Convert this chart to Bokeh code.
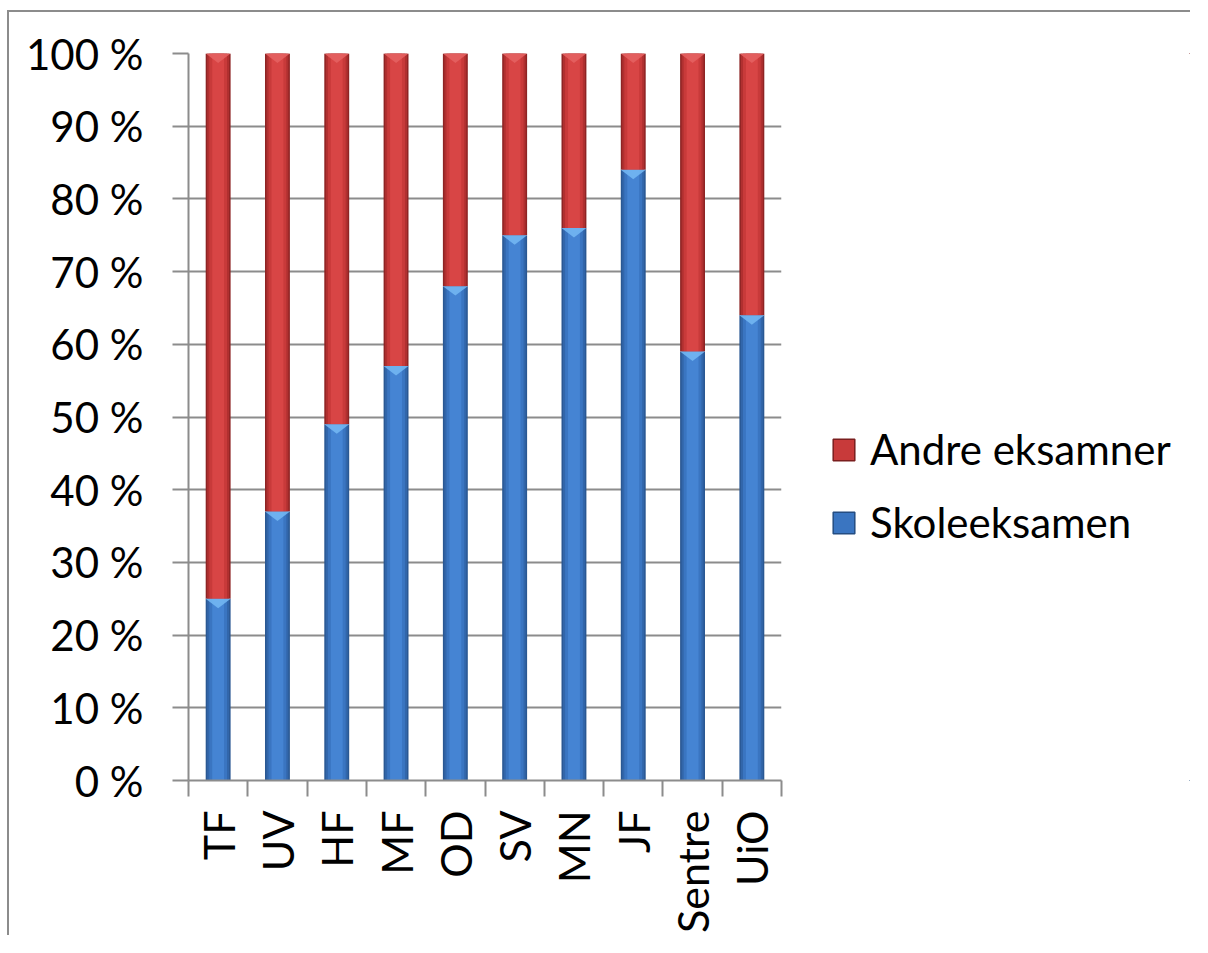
import math
from bokeh.plotting import figure
from bokeh.layouts import row
from bokeh.models import FixedTicker, Legend, LegendItem, ColumnDataSource, Range1d, BoxAnnotation
from bokeh.embed import file_html
from bokeh.resources import INLINE

# ---- data ----
categories = ["TF", "UV", "HF", "MF", "OD", "SV", "MN", "JF", "Sentre", "UiO"]
skoleeksamen = [25, 37, 49, 57, 68, 75, 76, 84, 59, 64]
andre_eksamner = [75, 63, 51, 43, 32, 25, 24, 16, 41, 36]
y_ticks = [0, 10, 20, 30, 40, 50, 60, 70, 80, 90, 100]
y_tick_labels = ["0 %", "10 %", "20 %", "30 %", "40 %", "50 %", "60 %", "70 %", "80 %", "90 %", "100 %"]
series_names = ["Andre eksamner", "Skoleeksamen"]

FONT = "Lato"
GRAY = "#8c8c8c"

xs = [i + 0.5 for i in range(len(categories))]
bottoms_blue = [0] * len(categories)
tops_blue = list(skoleeksamen)
bottoms_red = list(skoleeksamen)
tops_red = [s + a for s, a in zip(skoleeksamen, andre_eksamner)]

src = ColumnDataSource(dict(x=xs, b0=bottoms_blue, t0=tops_blue, b1=bottoms_red, t1=tops_red))

W_MAIN = 802
W_LEG = 1181 - W_MAIN
H = 923
TOP = 41
FRAME_H = 731

p = figure(width=W_MAIN, height=H, x_range=Range1d(0, len(categories)), y_range=Range1d(0, 100),
           output_backend="svg", toolbar_location=None,
           min_border_left=179, min_border_right=W_MAIN - 179 - 593, min_border_top=TOP,
           min_border_bottom=H - TOP - FRAME_H)
p.outline_line_color = None
p.background_fill_color = "white"
p.border_fill_color = "white"

# grid
p.xgrid.visible = False
p.ygrid.ticker = FixedTicker(ticks=y_ticks)
p.ygrid.grid_line_color = GRAY
p.ygrid.grid_line_width = 2

# y axis
ya = p.yaxis[0]
ya.ticker = FixedTicker(ticks=y_ticks)
ya.major_label_overrides = {t: l for t, l in zip(y_ticks, y_tick_labels)}
ya.axis_line_color = GRAY
ya.axis_line_width = 2
ya.major_tick_line_color = GRAY
ya.major_tick_line_width = 2
ya.major_tick_out = 16
ya.major_tick_in = 0
ya.minor_tick_line_color = None
ya.major_label_text_font = FONT
ya.major_label_text_font_size = "42px"
ya.major_label_text_color = "black"
ya.major_label_standoff = 29

# x axis
xa = p.xaxis[0]
xa.ticker = FixedTicker(ticks=xs, minor_ticks=list(range(len(categories) + 1)))
xa.major_label_overrides = {x: c for x, c in zip(xs, categories)}
xa.axis_line_color = GRAY
xa.axis_line_width = 2
xa.major_tick_line_color = None
xa.major_tick_out = 0
xa.major_tick_in = 0
xa.minor_tick_line_color = GRAY
xa.minor_tick_line_width = 2
xa.minor_tick_out = 16
xa.minor_tick_in = 0
xa.major_label_orientation = math.pi / 2
xa.major_label_text_font = FONT
xa.major_label_text_font_size = "43px"
xa.major_label_text_color = "black"
xa.major_label_standoff = 14

# bars with a simple horizontal shading
BW = 0.42
blue_layers = [(BW, "#2a5893"), (0.37, "#3266aa"), (0.30, "#3a75c1"), (0.20, "#4584d3")]
red_layers = [(BW, "#8e2424"), (0.37, "#b03030"), (0.30, "#c83a3a"), (0.20, "#d84545")]

for w, c in blue_layers:
    p.vbar(x="x", bottom="b0", top="t0", width=w, source=src, fill_color=c, line_color=None)
for w, c in red_layers:
    p.vbar(x="x", bottom="b1", top="t1", width=w, source=src, fill_color=c, line_color=None)

# top bevels (small downward triangles)
def bevel(tops, color):
    xs_p, ys_p = [], []
    for x, t in zip(xs, tops):
        xs_p.append([x - BW / 2, x + BW / 2, x])
        ys_p.append([t, t, t - 1.3])
    p.patches(xs_p, ys_p, fill_color=color, line_color=None, fill_alpha=0.9)

bevel(tops_blue, "#72b6f2")
bevel(tops_red, "#e46060")

# ---- legend panel (separate figure, no axes; its bar renderers lie outside its view) ----
q = figure(width=W_LEG, height=H, x_range=Range1d(-30, -29), y_range=Range1d(0, 100),
           output_backend="svg", toolbar_location=None,
           x_axis_location=None, y_axis_location=None,
           min_border_left=0, min_border_right=0, min_border_top=0, min_border_bottom=0)
q.outline_line_color = None
q.grid.visible = False
q.background_fill_color = "white"
q.border_fill_color = "white"

r_red = q.vbar(x="x", bottom="b1", top="t1", width=BW, source=src,
               fill_color="#c83a3a", line_color="#7a1e1e", line_width=1.5)
r_blue = q.vbar(x="x", bottom="b0", top="t0", width=BW, source=src,
                fill_color="#3a75c1", line_color="#244d82", line_width=1.5)
leg_r = {"Andre eksamner": r_red, "Skoleeksamen": r_blue}

# white cover over the legend panel's frame (hides any edge artefacts of the proxy bars)
q.add_layout(BoxAnnotation(fill_color="white", fill_alpha=1.0, line_color=None))

legend = Legend(items=[LegendItem(label=n, renderers=[leg_r[n]]) for n in series_names],
                location=(19, 233))
legend.glyph_width = 27
legend.glyph_height = 27
legend.label_standoff = 13
legend.label_text_font = FONT
legend.label_text_font_size = "42px"
legend.label_text_color = "black"
legend.padding = 0
legend.margin = 0
legend.spacing = 23
legend.border_line_color = None
legend.background_fill_alpha = 0
q.add_layout(legend, "center")

layout = row(p, q, spacing=0)
layout.styles = {"margin-left": "7px", "margin-top": "10px", "overflow": "hidden",
                 "border-left": "2px solid #8c8c8c", "border-top": "2px solid #8c8c8c"}
open("out.html", "w").write(file_html(layout, INLINE))
